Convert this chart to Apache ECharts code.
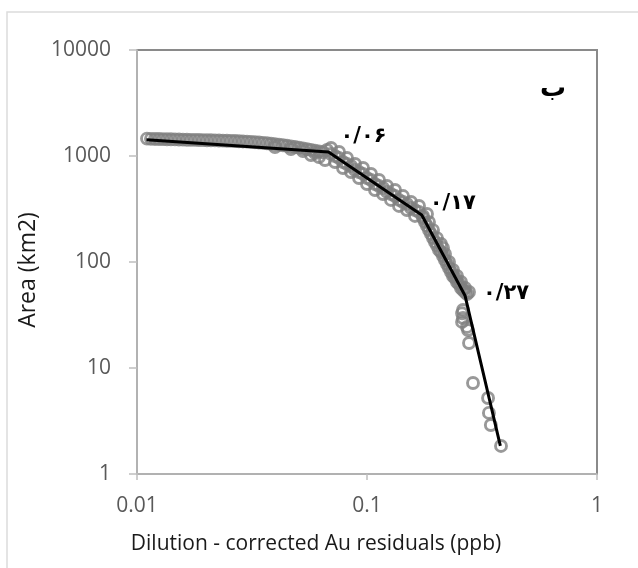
<!DOCTYPE html>
<html>
<head>
<meta charset="utf-8">
<script src="https://cdn.jsdelivr.net/npm/echarts@6/dist/echarts.min.js"></script>
<style>html,body{margin:0;padding:0;background:#fff;}#c{width:638px;height:568px;}</style>
</head>
<body>
<div id="c"></div>
<script>
const flatX = [0.011053,0.011504,0.011975,0.012464,0.012973,0.013503,0.014055,0.014629,0.015227,
  0.015849,0.016497,0.017171,0.017872,0.018603,0.019363,0.020154,0.020977,0.021834,0.022726,
  0.023655,0.024621,0.025627,0.026675,0.027765,0.028899,0.03008,0.031309,0.032588,0.03392,
  0.035306,0.036749,0.03825,0.039811,0.04144,0.043133,0.044896,0.04673,0.04864,0.050627,
  0.052696,0.054849,0.05709,0.059423,0.061851,0.064378,
  0.039811,0.04673,0.052696,0.059423,0.061851,0.065701,0.05709];
const flatY = [1460,1452,1449,1446,1443,1440,1437,1434,1430,
  1427,1424,1421,1418,1415,1412,1409,1406,1403,1400,
  1396,1392,1388,1384,1378,1372,1366,1358,1350,1340,
  1330,1318,1305,1292,1278,1263,1248,1232,1216,1198,
  1180,1162,1142,1122,1104,1085,
  1216,1164,1115,1067,979,917,1022];
const midX = [0.067008,0.069746,0.072596,0.075562,0.078649,0.081863,0.085208,0.088689,0.092313,0.096085,
  0.1,0.10409,0.10834,0.11277,0.11738,0.12217,0.12716,0.13236,0.13777,0.1434,
  0.14925,0.15535,0.1617,0.16831,0.17518,
  0.069746,0.075562,0.081863,0.088689,0.096085,0.10409,0.11277,0.12217,0.13236,0.1434,0.15535,0.16831,0.18234,
  0.072596,0.078649,0.085208,0.092313,0.1,0.10834,0.11738,0.12716,0.13777,0.14925,0.1617];
const midY = [1139,1044,1000,957,878,841,805,738,707,677,
  620,594,544,521,499,458,438,419,385,368,
  353,323,309,296,272,
  1190,1091,957,841,771,677,594,521,478,419,368,338,284,
  878,771,707,620,544,478,438,385,338,309,272];
const steepX = [0.17518,0.17872,0.18234,0.18603,0.18979,0.19363,0.19755,0.20154,0.20562,0.20977,
  0.21403,0.21834,0.22277,0.22726,0.23188,0.23655,0.24135,0.24621,0.25119,0.25627,
  0.26146,0.26675,0.27214,
  0.18603,0.19363,0.20154,0.20977,0.21403,0.21834,0.22726,0.23655,0.24621,0.25627,0.26675,0.27765];
const steepY = [260,238,219,200,184,168,154,142,130,124,
  114,104,95.7,87.8,80.5,73.8,70.7,64.8,62.0,56.8,
  54.4,52.1,49.9,
  238,200,168,148,136,119,100,84.1,73.8,64.8,56.8,52.1];
const tailX = [0.26146,0.259,0.259,0.2615,0.2721,0.2749,0.2777,0.289,0.336,0.339,0.3455,0.3825];
const tailY = [35.3,32.8,27.2,29.6,24.4,22.8,17.2,7.22,5.21,3.77,2.9,1.84];

// Fitted segmented line (break points)
const lineX = [0.011, 0.068, 0.173, 0.267, 0.38];
const lineY = [1420, 1090, 278, 48, 1.84];
const breakLabels = ['', '۰/۰۶', '۰/۱۷', '۰/۲۷', ''];
const xTicks = [0.01, 0.1, 1];
const yTicks = [1, 10, 100, 1000, 10000];

const pointX = flatX.concat(midX, steepX, tailX);
const pointY = flatY.concat(midY, steepY, tailY);
const fmt = v => String(+(+v).toPrecision(6));
const scatterData = pointX.map((x, i) => [x, pointY[i]]);
const labelOffsets = [[0,0],[35,-15],[31,-11],[41,-2],[0,0]];
const lineData = lineX.map((x, i) => ({
  value: [x, lineY[i]],
  label: {
    show: breakLabels[i] !== '',
    formatter: breakLabels[i],
    position: 'inside',
    offset: labelOffsets[i],
    fontFamily: 'DejaVu Sans',
    fontWeight: 'bold',
    fontSize: 21,
    color: '#000'
  }
}));

const chart = echarts.init(document.getElementById('c'), null, {renderer: 'canvas'});
chart.setOption({
  animation: false,
  backgroundColor: '#fff',
  grid: {left: 137, top: 50, right: 41, bottom: 94, show: true, borderColor: '#8a8a8a', borderWidth: 2, backgroundColor: 'transparent'},
  graphic: [
    {type: 'rect', shape: {x: 7, y: 12, width: 700, height: 700}, style: {fill: 'none', stroke: '#dcdcdc', lineWidth: 1.5}, silent: true},
    {type: 'text', left: 540, top: 76, style: {text: 'ب', font: 'bold 26px "DejaVu Sans"', fill: '#000'}}
  ],
  xAxis: {
    type: 'log', logBase: 10, min: 0.01, max: 1,
    name: 'Dilution - corrected Au residuals (ppb)',
    nameLocation: 'middle', nameGap: 60,
    nameTextStyle: {fontFamily: 'Open Sans', fontSize: 21, color: '#1a1a1a', padding: [0, 102, 0, 0]},
    axisLine: {lineStyle: {color: '#bfbfbf', width: 1.5}},
    axisTick: {show: true, length: 6, lineStyle: {color: '#bfbfbf', width: 1.5}},
    axisLabel: {fontFamily: 'Open Sans', fontSize: 21, color: '#595959', margin: 22, formatter: fmt},
    splitLine: {show: false}, minorTick: {show: false}
  },
  yAxis: {
    type: 'log', logBase: 10, min: 1, max: 10000,
    name: 'Area (km2)',
    nameLocation: 'middle', nameGap: 89,
    nameTextStyle: {fontFamily: 'Open Sans', fontSize: 23, color: '#1a1a1a', padding: [0, 16, 0, 0]},
    axisLine: {lineStyle: {color: '#bfbfbf', width: 1.5}},
    axisTick: {show: true, length: 8, lineStyle: {color: '#bfbfbf', width: 1.5}},
    axisLabel: {fontFamily: 'Open Sans', fontSize: 21, color: '#595959', margin: 26, formatter: fmt},
    splitLine: {show: false}
  },
  series: [
    {
      type: 'scatter', data: scatterData, symbol: 'circle', symbolSize: 11,
      itemStyle: {color: 'rgba(0,0,0,0)', borderColor: '#808080', borderWidth: 2.9},
      z: 2
    },
    {
      type: 'line', data: lineData, showSymbol: true, symbol: 'circle', symbolSize: 0.1,
      itemStyle: {color: '#000'},
      lineStyle: {color: '#000', width: 3}, z: 3
    }
  ]
});
</script>
</body>
</html>
